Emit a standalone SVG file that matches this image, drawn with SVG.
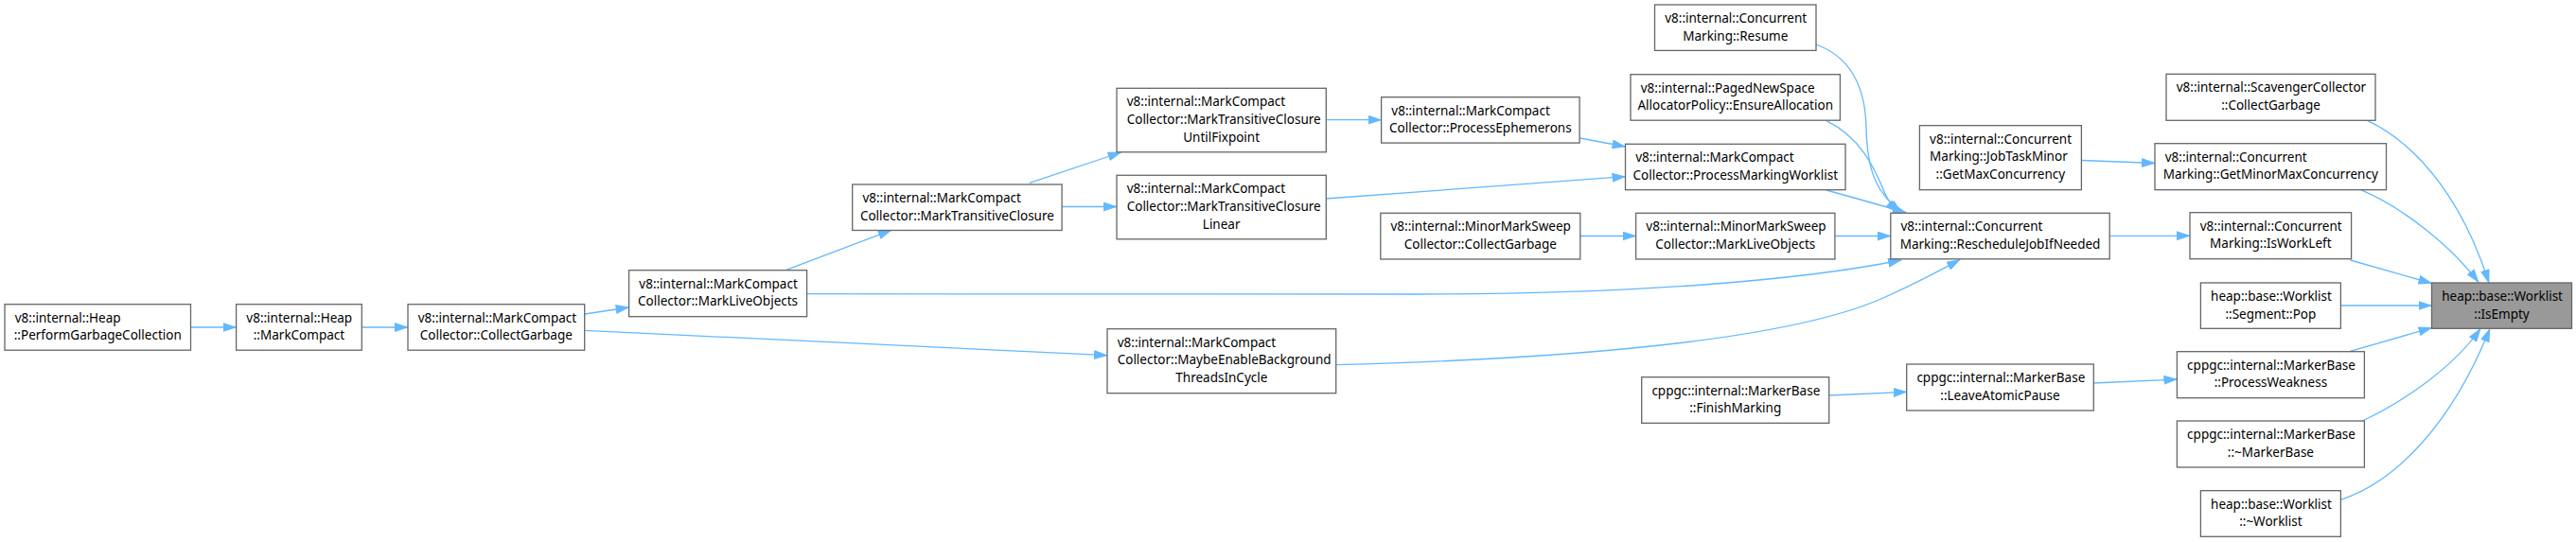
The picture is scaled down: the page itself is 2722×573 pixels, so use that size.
<svg xmlns="http://www.w3.org/2000/svg" width="2722" height="573" viewBox="0 0 2722 573">
<style>
.n rect{fill:#ffffff;stroke:#666666;stroke-width:1.3}
#n_isempty rect{fill:#999999}
text{font-family:"Noto Sans","Liberation Sans",sans-serif;font-size:13.5px;fill:#000000}
.m{text-anchor:middle}
.e path{fill:none;stroke:#63b8ff;stroke-width:1.3;marker-end:url(#ah)}
</style>
<defs>
<marker id="ah" markerWidth="15" markerHeight="10" refX="14" refY="5" orient="auto" markerUnits="userSpaceOnUse"><path d="M0,0 L15,5 L0,10 z" fill="#63b8ff"/></marker>
</defs>
<rect width="2722" height="573" fill="#ffffff"/>
<g class="e" id="edges">
<path d="M201.5,346 L249.6,346"/>
<path d="M382.3,346 L431,346"/>
<path d="M617.7,332 L664.6,325"/>
<path d="M617.7,349.3 L1170,375.7"/>
<path d="M827.5,286.7 L941.8,243.3"/>
<path d="M852.6,310.7 L1500,311 C1720,311 1900,297 2009,275"/>
<path d="M1411.7,385.7 C1700,378 1900,355 1990,315 C2030,297 2050,286 2071,274.5"/>
<path d="M1088,193.3 L1184.6,161"/>
<path d="M1122,218.5 L1180,218.5"/>
<path d="M1401.3,126.7 L1459.6,126.7"/>
<path d="M1401.5,210 L1717.5,186.7"/>
<path d="M1669.3,146 L1717.5,155"/>
<path d="M1930,201 L2013.8,224.5"/>
<path d="M1930,127.7 C1965,145 1980,175 1992,205 C1996,213 2000,219 2006,224.5"/>
<path d="M1919,47 C1955,60 1971,90 1972,135 C1973,185 1985,205 2009,224.5"/>
<path d="M1669.8,249.5 L1728.6,249.5"/>
<path d="M1939,249.5 L1997.8,249.5"/>
<path d="M2199.4,169.5 L2277,172.5"/>
<path d="M2229.2,249.3 L2314,249.3"/>
<path d="M2501.5,127.3 C2560,155 2605,220 2630,299"/>
<path d="M2494.6,200.7 C2540,220 2590,260 2619,298.5"/>
<path d="M2483.5,275 L2569.5,299.5"/>
<path d="M2473.4,323 L2569.5,323"/>
<path d="M2482.5,371.7 L2569.5,346.5"/>
<path d="M2496.3,445 C2545,422 2595,385 2621,347.5"/>
<path d="M2473.4,528.3 C2530,510 2590,450 2631,347.5"/>
<path d="M2212,405 L2300.4,401"/>
<path d="M1932.6,418 L2014.7,414.3"/>
</g>
<g class="n" id="n_perform"><rect x="5" y="321.7" width="196.5" height="48.5"/><text x="15.7" y="340.7">v8::internal::Heap</text><text class="m" x="103.25" y="359.4">::PerformGarbageCollection</text></g>
<g class="n" id="n_heapmc"><rect x="249.6" y="321.7" width="132.7" height="48.5"/><text x="260.3" y="340.7">v8::internal::Heap</text><text class="m" x="315.95" y="359.4">::MarkCompact</text></g>
<g class="n" id="n_cg"><rect x="431" y="321.7" width="186.7" height="48.5"/><text x="441.7" y="340.7">v8::internal::MarkCompact</text><text class="m" x="524.35" y="359.4">Collector::CollectGarbage</text></g>
<g class="n" id="n_mlo"><rect x="664.6" y="285.7" width="188" height="49"/><text x="675.3" y="304.7">v8::internal::MarkCompact</text><text class="m" x="758.6" y="323.4">Collector::MarkLiveObjects</text></g>
<g class="n" id="n_mtc"><rect x="900.7" y="195" width="221.4" height="48.5"/><text x="911.4" y="214">v8::internal::MarkCompact</text><text class="m" x="1011.4" y="232.7">Collector::MarkTransitiveClosure</text></g>
<g class="n" id="n_fix"><rect x="1180" y="93.3" width="221.3" height="67.5"/><text x="1190.7" y="112.3">v8::internal::MarkCompact</text><text x="1190.7" y="131">Collector::MarkTransitiveClosure</text><text class="m" x="1290.65" y="149.7">UntilFixpoint</text></g>
<g class="n" id="n_lin"><rect x="1180" y="185.3" width="221.3" height="67.5"/><text x="1190.7" y="204.3">v8::internal::MarkCompact</text><text x="1190.7" y="223">Collector::MarkTransitiveClosure</text><text class="m" x="1290.65" y="241.7">Linear</text></g>
<g class="n" id="n_maybe"><rect x="1170" y="347.7" width="241.7" height="68"/><text x="1180.7" y="366.7">v8::internal::MarkCompact</text><text x="1180.7" y="385.4">Collector::MaybeEnableBackground</text><text class="m" x="1290.85" y="404.1">ThreadsInCycle</text></g>
<g class="n" id="n_eph"><rect x="1459.6" y="102.7" width="209.5" height="48.4"/><text x="1470.3" y="121.7">v8::internal::MarkCompact</text><text class="m" x="1564.35" y="140.4">Collector::ProcessEphemerons</text></g>
<g class="n" id="n_mmscg"><rect x="1458.8" y="225.3" width="211" height="48.7"/><text x="1469.5" y="244.3">v8::internal::MinorMarkSweep</text><text class="m" x="1564.3" y="263">Collector::CollectGarbage</text></g>
<g class="n" id="n_resume"><rect x="1748.5" y="5" width="170.5" height="48.4"/><text x="1759.2" y="24">v8::internal::Concurrent</text><text class="m" x="1833.75" y="42.7">Marking::Resume</text></g>
<g class="n" id="n_ensure"><rect x="1723" y="78.7" width="221.4" height="48.5"/><text x="1733.7" y="97.7">v8::internal::PagedNewSpace</text><text class="m" x="1833.7" y="116.4">AllocatorPolicy::EnsureAllocation</text></g>
<g class="n" id="n_pmw"><rect x="1717.5" y="152.3" width="232.5" height="48.4"/><text x="1728.2" y="171.3">v8::internal::MarkCompact</text><text class="m" x="1833.75" y="190">Collector::ProcessMarkingWorklist</text></g>
<g class="n" id="n_mmsmlo"><rect x="1728.6" y="225.3" width="210.3" height="48.7"/><text x="1739.3" y="244.3">v8::internal::MinorMarkSweep</text><text class="m" x="1833.75" y="263">Collector::MarkLiveObjects</text></g>
<g class="n" id="n_finish"><rect x="1734.7" y="398.7" width="198" height="48.6"/><text x="1745.4" y="417.7">cppgc::internal::MarkerBase</text><text class="m" x="1833.7" y="436.4">::FinishMarking</text></g>
<g class="n" id="n_jobtask"><rect x="2028.4" y="132.7" width="171" height="68"/><text x="2039.1" y="151.7">v8::internal::Concurrent</text><text x="2039.1" y="170.4">Marking::JobTaskMinor</text><text class="m" x="2113.9" y="189.1">::GetMaxConcurrency</text></g>
<g class="n" id="n_resched"><rect x="1997.8" y="225.3" width="231.4" height="48.5"/><text x="2008.5" y="244.3">v8::internal::Concurrent</text><text class="m" x="2113.5" y="263">Marking::RescheduleJobIfNeeded</text></g>
<g class="n" id="n_leave"><rect x="2014.7" y="385" width="197.6" height="49"/><text x="2025.4" y="404">cppgc::internal::MarkerBase</text><text class="m" x="2113.5" y="422.7">::LeaveAtomicPause</text></g>
<g class="n" id="n_scav"><rect x="2289" y="78.3" width="221" height="49"/><text x="2299.7" y="97.3">v8::internal::ScavengerCollector</text><text class="m" x="2399.5" y="116">::CollectGarbage</text></g>
<g class="n" id="n_getminor"><rect x="2277" y="151.7" width="244.5" height="49"/><text x="2287.7" y="170.7">v8::internal::Concurrent</text><text class="m" x="2399.25" y="189.4">Marking::GetMinorMaxConcurrency</text></g>
<g class="n" id="n_isworkleft"><rect x="2314" y="224.7" width="170.6" height="49"/><text x="2324.7" y="243.7">v8::internal::Concurrent</text><text class="m" x="2399.3" y="262.4">Marking::IsWorkLeft</text></g>
<g class="n" id="n_pop"><rect x="2325.4" y="299" width="148" height="48.3"/><text x="2336.1" y="318">heap::base::Worklist</text><text class="m" x="2399.4" y="336.7">::Segment::Pop</text></g>
<g class="n" id="n_weak"><rect x="2300.4" y="371.7" width="198" height="49"/><text x="2311.1" y="390.7">cppgc::internal::MarkerBase</text><text class="m" x="2399.4" y="409.4">::ProcessWeakness</text></g>
<g class="n" id="n_markerbase"><rect x="2300.4" y="445" width="198" height="49"/><text x="2311.1" y="464">cppgc::internal::MarkerBase</text><text class="m" x="2399.4" y="482.7">::~MarkerBase</text></g>
<g class="n" id="n_worklist"><rect x="2325.4" y="518.7" width="148" height="48.6"/><text x="2336.1" y="537.7">heap::base::Worklist</text><text class="m" x="2399.4" y="556.4">::~Worklist</text></g>
<g class="n" id="n_isempty"><rect x="2569.5" y="299" width="148" height="48.3"/><text x="2580.2" y="318">heap::base::Worklist</text><text class="m" x="2643.5" y="336.7">::IsEmpty</text></g>
</svg>
